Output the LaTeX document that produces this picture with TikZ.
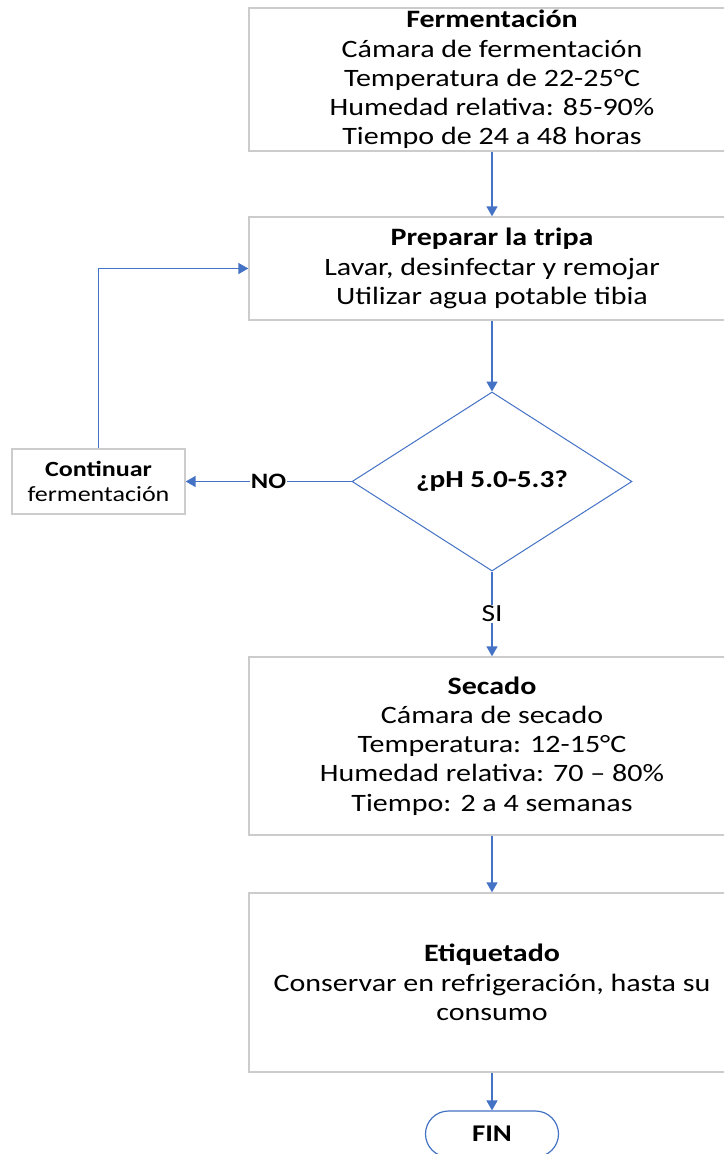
\documentclass[tikz,border=0pt]{standalone}
\usepackage{fontspec}
\setmainfont{Carlito}[FakeStretch=1.2]
\usetikzlibrary{shapes.geometric,shapes.misc,arrows.meta}
\definecolor{flowblue}{HTML}{4472C4}
\definecolor{boxgray}{HTML}{CCCCCC}
\tikzset{
  stepbox/.style={draw=boxgray, line width=1.4pt, fill=white, align=center,
    inner sep=0pt, font=\fontsize{25}{29.2}\selectfont},
  decision/.style={diamond, draw=flowblue, line width=1pt, fill=white,
    inner sep=0pt, font=\fontsize{24.4}{29}\selectfont\bfseries},
  endterm/.style={rounded rectangle, draw=flowblue, line width=1.2pt, fill=white,
    inner sep=0pt, font=\fontsize{24}{29}\selectfont\bfseries},
  flow/.style={draw=flowblue, line width=1.6pt, -{Triangle[width=11pt,length=10pt]}},
  lbl/.style={fill=white, inner sep=1pt, font=\fontsize{24.6}{29}\selectfont},
}
\begin{document}
\begin{tikzpicture}[x=1pt,y=-1pt]
\useasboundingbox (0,0) rectangle (724,1154);
\clip (0,0) rectangle (724,1154);
\fill[white] (0,0) rectangle (724,1154);

% process steps
\node[stepbox, minimum width=486pt, minimum height=143pt] (ferm) at (492,79.5)
  {\textbf{Fermentación}\\Cámara de fermentación\\Temperatura de 22-25°C\\Humedad relativa: 85-90\%\\Tiempo de 24 a 48 horas};
\node[stepbox, minimum width=486pt, minimum height=103pt] (prep) at (492,268.5)
  {\textbf{Preparar la tripa}\\Lavar, desinfectar y remojar\\Utilizar agua potable tibia};
\node[decision, minimum width=280pt, minimum height=179pt] (ph) at (492,481.5) {¿pH 5.0-5.3?};
\node[stepbox, minimum width=173pt, minimum height=65pt,
  font=\fontsize{21.7}{24.5}\selectfont] (cont) at (98.5,481.5)
  {\textbf{Continuar}\\fermentación};
\node[stepbox, minimum width=486pt, minimum height=178pt] (sec) at (492,746)
  {\textbf{Secado}\\Cámara de secado\\Temperatura: 12-15°C\\Humedad relativa: 70 – 80\%\\Tiempo: 2 a 4 semanas};
\node[stepbox, minimum width=486pt, minimum height=179pt,
  font=\fontsize{25}{29.5}\selectfont] (etq) at (492,982.5)
  {\textbf{Etiquetado}\\Conservar en refrigeración, hasta su\\consumo};
\node[endterm, minimum width=133pt, minimum height=46pt] (fin) at (492,1134) {FIN};

% connectors
\draw[flow] (ferm.south) -- (prep.north);
\draw[flow] (prep.south) -- (ph.north);
\draw[flow] (ph.west) -- node[lbl, font=\fontsize{22}{29}\selectfont\bfseries] {NO} (cont.east);
\draw[flow] (cont.north) |- (prep.west);
\draw[flow] (ph.south) -- node[lbl] {SI} (sec.north);
\draw[flow] (sec.south) -- (etq.north);
\draw[flow] (etq.south) -- (fin.north);
\end{tikzpicture}
\end{document}
